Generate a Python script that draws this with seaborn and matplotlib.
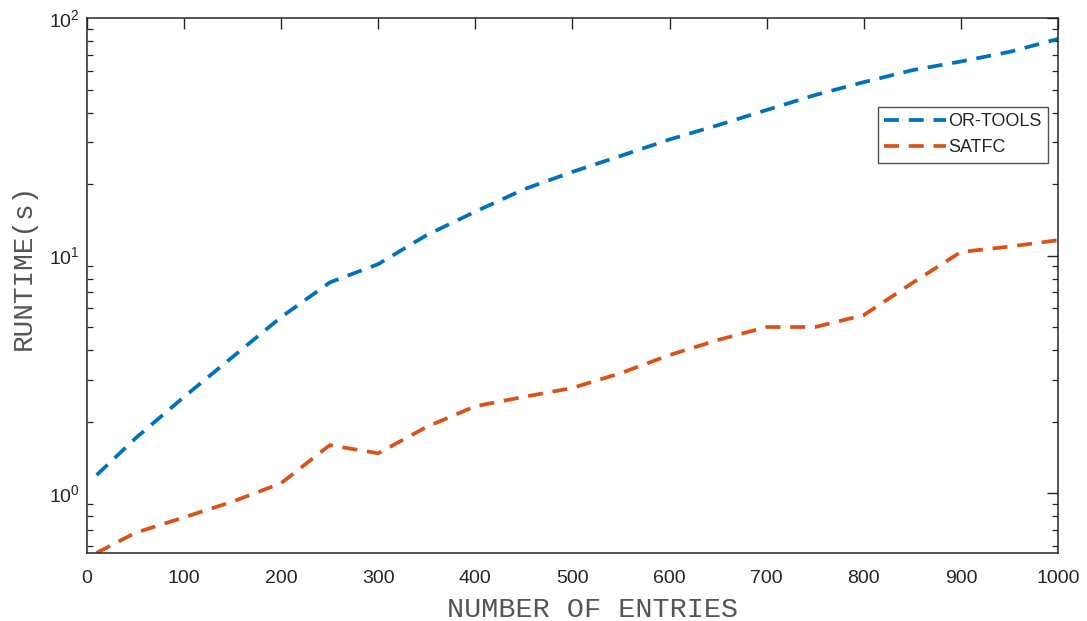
import numpy as np
import pandas as pd
import matplotlib
matplotlib.use("Agg")
import matplotlib.pyplot as plt
import seaborn as sns
from matplotlib.ticker import LogLocator, NullFormatter, FixedLocator

# Runtime measurements (seconds) against problem size
entries = [10, 50, 100, 150, 200, 250, 300, 350, 400, 450, 500,
           550, 600, 650, 700, 750, 800, 850, 900, 950, 1000]
or_tools = [1.19, 1.70, 2.54, 3.74, 5.50, 7.70, 9.20, 12.2, 15.3, 19.0, 22.5,
            26.3, 30.8, 35.4, 41.0, 47.4, 53.7, 60.3, 65.6, 72.0, 81.6]
satfc = [0.56, 0.68, 0.79, 0.92, 1.10, 1.59, 1.47, 1.90, 2.32, 2.54, 2.77,
         3.20, 3.81, 4.41, 5.00, 5.00, 5.61, 7.66, 10.35, 10.9, 11.6]
series_names = ["OR-TOOLS", "SATFC"]
series_colors = ["#0072BD", "#D95319"]

df = pd.concat([
    pd.DataFrame({"entries": entries, "runtime": or_tools, "solver": series_names[0]}),
    pd.DataFrame({"entries": entries, "runtime": satfc, "solver": series_names[1]}),
])

sns.set_theme(style="white")
plt.rcParams["font.family"] = ["Liberation Sans", "DejaVu Sans"]
plt.rcParams["mathtext.default"] = "regular"

fig = plt.figure(figsize=(10.87, 6.21), dpi=100)
ax = fig.add_axes([0.080, 0.1095, 0.8933, 0.8615])

sns.lineplot(
    data=df, x="entries", y="runtime", hue="solver", style="solver",
    hue_order=series_names, style_order=series_names,
    palette=dict(zip(series_names, series_colors)),
    dashes={n: (4.0, 2.6) for n in series_names},
    linewidth=2.7, ax=ax, legend=True,
)

ax.set_yscale("log")
ax.set_xlim(0, 1000)
ax.set_ylim(10 ** -0.2526, 100)
ax.xaxis.set_major_locator(FixedLocator(np.arange(0, 1001, 100)))
ax.yaxis.set_major_locator(FixedLocator([1, 10, 100]))
ax.yaxis.set_minor_locator(LogLocator(base=10, subs=np.arange(2, 10)))
ax.yaxis.set_minor_formatter(NullFormatter())

axis_dark = "#262626"
for sp in ax.spines.values():
    sp.set_color(axis_dark)
    sp.set_linewidth(1.1)
    sp.set_visible(True)

ax.tick_params(axis="both", which="major", direction="in", length=8, width=1.0,
               color=axis_dark, top=True, right=True, labelsize=14,
               labelcolor=axis_dark)
ax.tick_params(axis="x", which="major", pad=12)
ax.tick_params(axis="y", which="major", pad=5)
ax.tick_params(axis="y", which="minor", direction="in", length=4.5, width=0.9,
               color=axis_dark, left=True, right=True)
ax.tick_params(axis="x", which="minor", bottom=False, top=False)

label_color = "#555555"
mono = ["Liberation Mono", "DejaVu Sans Mono"]
ax.set_xlabel("NUMBER OF ENTRIES", family=mono, size=20.5, color=label_color)
ax.set_ylabel("RUNTIME(s)", family=mono, size=20, color=label_color)
ax.xaxis.set_label_coords(0.521, -0.082)
ax.yaxis.set_label_coords(-0.052, 0.535)

leg = ax.legend(
    loc="upper right", bbox_to_anchor=(0.9897, 0.8336), borderaxespad=0,
    frameon=True, fancybox=False, fontsize=13, handlelength=3.4,
    handletextpad=0.15, borderpad=0.35, labelspacing=0.5,
)
leg.get_frame().set_edgecolor(axis_dark)
leg.get_frame().set_linewidth(1.0)
for t in leg.get_texts():
    t.set_color(axis_dark)
leg.set_title(None)

fig.savefig("out.png", dpi=100, facecolor="white")
